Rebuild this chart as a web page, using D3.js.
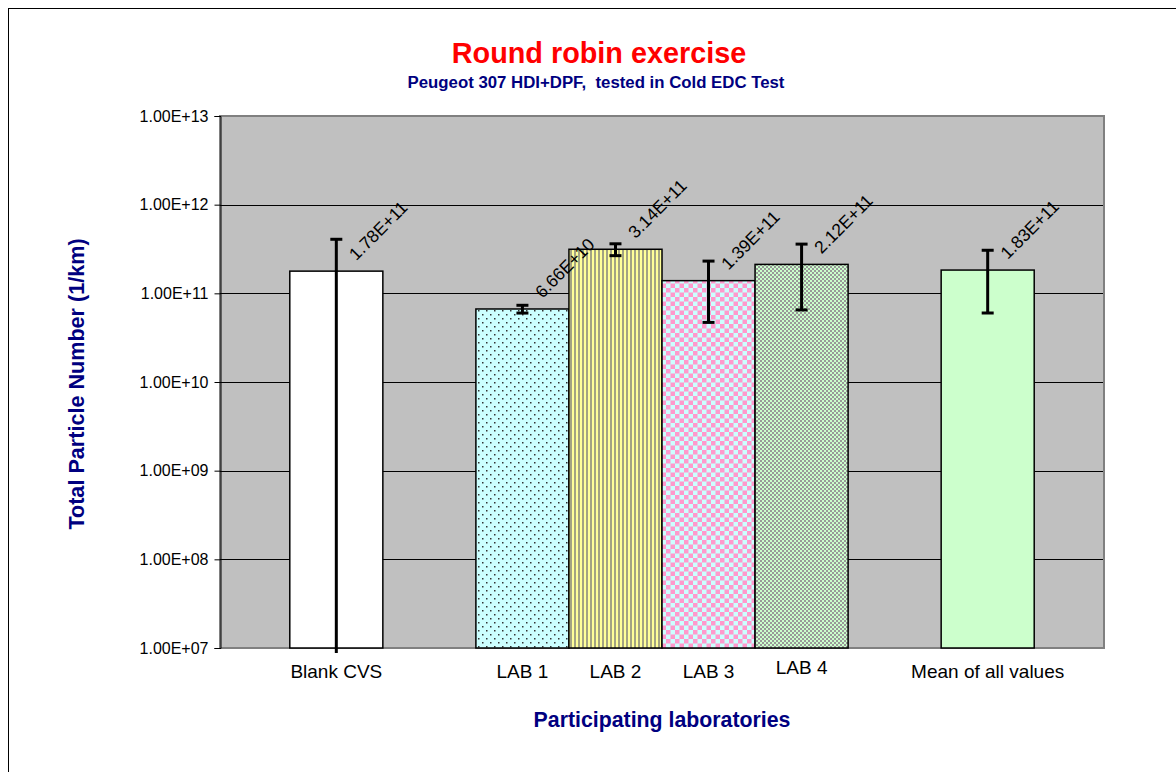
<!DOCTYPE html>
<html>
<head>
<meta charset="utf-8">
<script src="https://cdn.jsdelivr.net/npm/d3@7"></script>
<style>
  html, body { margin: 0; padding: 0; background: #fff; }
  svg { display: block; font-family: "Liberation Sans", Arial, sans-serif; }
</style>
</head>
<body>
<div id="chart"></div>
<script>
/* ── Round robin exercise: particle number per lab (log scale) ── */

const categories = ['Blank CVS', 'LAB 1', 'LAB 2', 'LAB 3', 'LAB 4', 'Mean of all values'];
const values     = [1.78e11, 6.66e10, 3.14e11, 1.39e11, 2.12e11, 1.83e11];
const errors     = [2.29e11, 6.7e9, 4.8e10, 9.2e10, 1.47e11, 1.23e11];
const yTicks     = [1e7, 1e8, 1e9, 1e10, 1e11, 1e12, 1e13];

// empty slots between groups, as in the original sheet
const slotOrder = ['Blank CVS', 'gap-a', 'LAB 1', 'LAB 2', 'LAB 3', 'LAB 4', 'gap-b', 'Mean of all values'];
const fills = ['#ffffff', 'url(#p-dots)', 'url(#p-vstripe)', 'url(#p-check)', 'url(#p-fine)', '#ccffcc'];

const W = 1176, H = 772;
const plot = { left: 220, right: 1104, top: 116, bottom: 648 };

// 1.00E+13 style
function sci(v) {
  const [m, e] = v.toExponential(2).split('e');
  return m + 'E' + e[0] + e.slice(1).padStart(2, '0');
}

const svg = d3.select('#chart').append('svg')
  .attr('width', W)
  .attr('height', H);

// Patterns
const defs = svg.append('defs');

const dots = defs.append('pattern').attr('id', 'p-dots')
  .attr('patternUnits', 'userSpaceOnUse').attr('width', 8).attr('height', 8);
dots.append('rect').attr('width', 8).attr('height', 8).attr('fill', '#ccffff');
dots.append('rect').attr('x', 2).attr('y', 2).attr('width', 1.5).attr('height', 1.5).attr('fill', '#333');
dots.append('rect').attr('x', 6).attr('y', 6).attr('width', 1.5).attr('height', 1.5).attr('fill', '#333');

const vs = defs.append('pattern').attr('id', 'p-vstripe')
  .attr('patternUnits', 'userSpaceOnUse').attr('width', 4).attr('height', 4);
vs.append('rect').attr('width', 4).attr('height', 4).attr('fill', '#ffff99');
vs.append('rect').attr('x', 2).attr('width', 2).attr('height', 4).attr('fill', '#a3a383');

const ck = defs.append('pattern').attr('id', 'p-check')
  .attr('patternUnits', 'userSpaceOnUse').attr('width', 9).attr('height', 9);
ck.append('rect').attr('width', 9).attr('height', 9).attr('fill', '#ccffff');
ck.append('rect').attr('width', 4.5).attr('height', 4.5).attr('fill', '#ff99cc');
ck.append('rect').attr('x', 4.5).attr('y', 4.5).attr('width', 4.5).attr('height', 4.5).attr('fill', '#ff99cc');

const fn = defs.append('pattern').attr('id', 'p-fine')
  .attr('patternUnits', 'userSpaceOnUse').attr('width', 4).attr('height', 4);
fn.append('rect').attr('width', 4).attr('height', 4).attr('fill', '#ccffcc');
fn.append('rect').attr('width', 2).attr('height', 2).attr('fill', '#999999');
fn.append('rect').attr('x', 2).attr('y', 2).attr('width', 2).attr('height', 2).attr('fill', '#999999');

// Outer chart frame (runs off the right / bottom edge)
svg.append('rect')
  .attr('x', 8.5).attr('y', 8.5)
  .attr('width', W + 20).attr('height', H + 20)
  .attr('fill', '#fff')
  .attr('stroke', '#000')
  .attr('stroke-width', 1);

// Scales
const x = d3.scaleBand()
  .domain(slotOrder)
  .range([plot.left, plot.right])
  .paddingInner(0)
  .paddingOuter(0.75);

const y = d3.scaleLog()
  .domain([1e7, 1e13])
  .range([plot.bottom, plot.top]);

// Plot area background
svg.append('rect')
  .attr('x', plot.left).attr('y', plot.top)
  .attr('width', plot.right - plot.left)
  .attr('height', plot.bottom - plot.top)
  .attr('fill', '#c0c0c0')
  .attr('stroke', '#808080')
  .attr('stroke-width', 2);

// Grid lines
svg.append('g')
  .selectAll('line')
  .data(yTicks.slice(1, -1))
  .join('line')
  .attr('x1', plot.left).attr('x2', plot.right - 1)
  .attr('y1', d => Math.round(y(d)) + 0.5)
  .attr('y2', d => Math.round(y(d)) + 0.5)
  .attr('stroke', '#000')
  .attr('stroke-width', 1);

// Y axis
const yAxis = svg.append('g')
  .attr('transform', `translate(${plot.left + 0.5},0)`)
  .call(d3.axisLeft(y).tickValues(yTicks).tickFormat(sci).tickSize(6).tickPadding(6));
yAxis.select('.domain').attr('stroke', '#000');
yAxis.selectAll('.tick line').attr('stroke', '#000');
yAxis.selectAll('.tick text')
  .attr('font-size', 16)
  .attr('fill', '#000')
  .style('font-family', '"Liberation Sans", Arial, sans-serif');

// Bars
svg.append('g')
  .selectAll('rect')
  .data(categories)
  .join('rect')
  .attr('x', d => x(d))
  .attr('y', (d, i) => y(values[i]))
  .attr('width', x.bandwidth())
  .attr('height', (d, i) => y(1e7) - y(values[i]))
  .attr('fill', (d, i) => fills[i])
  .attr('stroke', '#000')
  .attr('stroke-width', 1.5);

// Error bars
const eb = svg.append('g')
  .selectAll('g')
  .data(categories)
  .join('g')
  .attr('transform', d => `translate(${x(d) + x.bandwidth() / 2},0)`);

eb.append('line')
  .attr('y1', (d, i) => y(values[i] + errors[i]))
  .attr('y2', (d, i) => {
    const lo = values[i] - errors[i];
    return lo > 1e7 ? y(lo) : y(1e7) + 5;   // clipped below the axis
  })
  .attr('stroke', '#000')
  .attr('stroke-width', 3);

eb.append('line')
  .attr('x1', -6).attr('x2', 6)
  .attr('y1', (d, i) => y(values[i] + errors[i]))
  .attr('y2', (d, i) => y(values[i] + errors[i]))
  .attr('stroke', '#000')
  .attr('stroke-width', 3);

eb.filter((d, i) => values[i] - errors[i] > 1e7)
  .append('line')
  .attr('x1', -6).attr('x2', 6)
  .attr('y1', d => { const i = categories.indexOf(d); return y(values[i] - errors[i]); })
  .attr('y2', d => { const i = categories.indexOf(d); return y(values[i] - errors[i]); })
  .attr('stroke', '#000')
  .attr('stroke-width', 3);

// Value labels (rotated)
svg.append('g')
  .selectAll('text')
  .data(categories)
  .join('text')
  .attr('transform', (d, i) =>
    `translate(${x(d) + x.bandwidth() / 2 + 20},${y(values[i]) - 10}) rotate(-45)`)
  .attr('font-size', 17.5)
  .attr('fill', '#000')
  .text((d, i) => sci(values[i]));

// Category labels
svg.append('g')
  .selectAll('text')
  .data(categories)
  .join('text')
  .attr('x', d => x(d) + x.bandwidth() / 2)
  .attr('y', d => d === 'LAB 4' ? 674 : 678)
  .attr('text-anchor', 'middle')
  .attr('font-size', 19)
  .attr('fill', '#000')
  .text(d => d);

// Titles
svg.append('text')
  .attr('x', 599).attr('y', 63)
  .attr('text-anchor', 'middle')
  .attr('font-size', 28.8)
  .attr('font-weight', 'bold')
  .attr('fill', '#ff0000')
  .text('Round robin exercise');

svg.append('text')
  .attr('x', 596).attr('y', 88)
  .attr('text-anchor', 'middle')
  .attr('font-size', 16.8)
  .attr('font-weight', 'bold')
  .attr('fill', '#000080')
  .style('white-space', 'pre')
  .text('Peugeot 307 HDI+DPF,  tested in Cold EDC Test');

svg.append('text')
  .attr('x', (plot.left + plot.right) / 2).attr('y', 727)
  .attr('text-anchor', 'middle')
  .attr('font-size', 21.3)
  .attr('font-weight', 'bold')
  .attr('fill', '#000080')
  .text('Participating laboratories');

svg.append('text')
  .attr('transform', `translate(84,${(plot.top + plot.bottom) / 2 + 2}) rotate(-90)`)
  .attr('text-anchor', 'middle')
  .attr('font-size', 21.6)
  .attr('font-weight', 'bold')
  .attr('fill', '#000080')
  .text('Total Particle Number (1/km)');
</script>
</body>
</html>
